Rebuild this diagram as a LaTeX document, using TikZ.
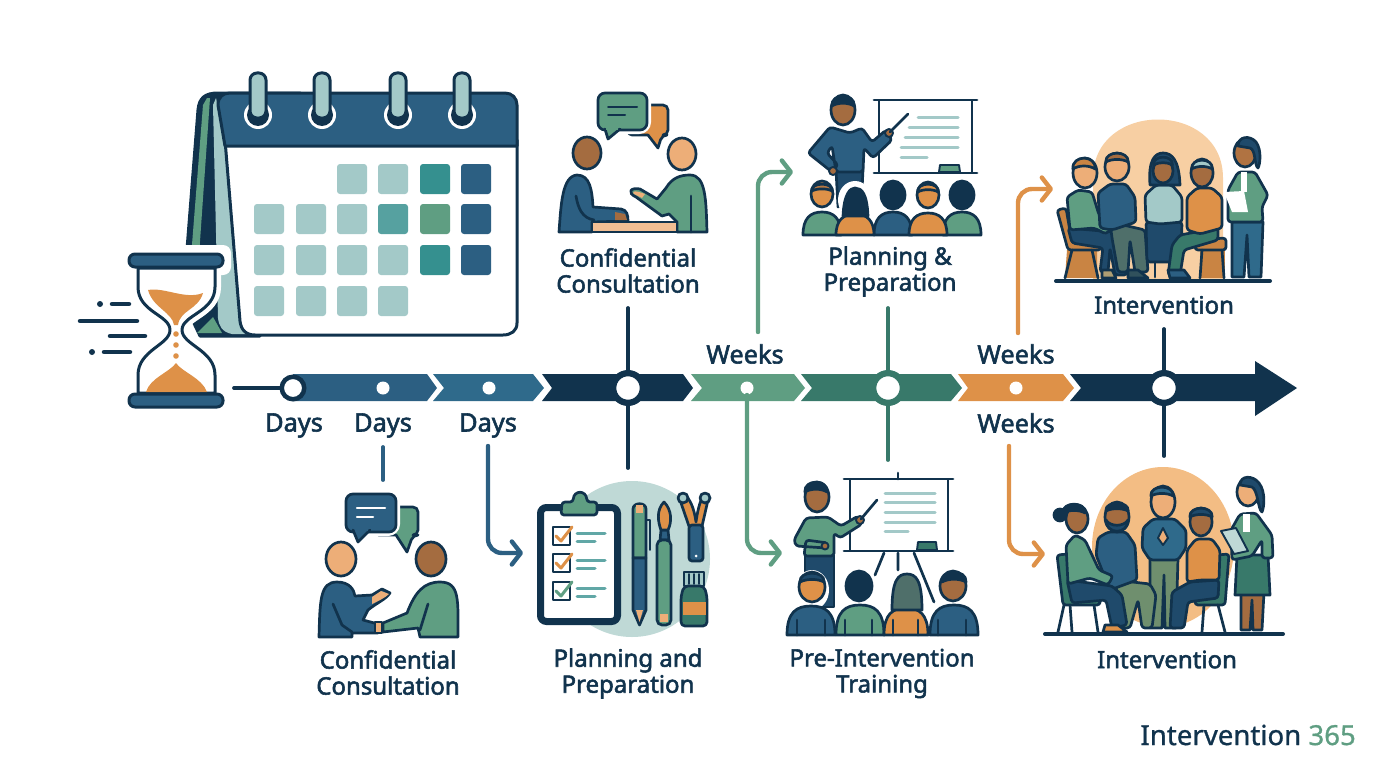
\documentclass[tikz,border=0pt]{standalone}
\usepackage{fontspec}
\setmainfont{Noto Sans}
\newfontfamily\lblfont{Noto Sans}[FakeBold=2.2]
\newfontfamily\logofont{Noto Sans}[FakeBold=1]
\usetikzlibrary{arrows.meta}
\definecolor{cNavy}{HTML}{11334D}
\definecolor{cNavyB}{HTML}{1F4A6B}
\definecolor{cBlue}{HTML}{2C5F82}
\definecolor{cBlueL}{HTML}{2F6A8B}
\definecolor{cTeal}{HTML}{35908F}
\definecolor{cGreen}{HTML}{5F9E82}
\definecolor{cDG}{HTML}{38796A}
\definecolor{cOr}{HTML}{DE9148}
\definecolor{cOrD}{HTML}{C98443}
\definecolor{cLO}{HTML}{F7CFA3}
\definecolor{cMO}{HTML}{F3BD84}
\definecolor{cPale}{HTML}{A3C9C8}
\definecolor{cPaleB}{HTML}{BFD9D6}
\definecolor{cBrown}{HTML}{A46C40}
\definecolor{cSkin}{HTML}{EDAE78}
\definecolor{cOlive}{HTML}{6F8F6E}
\definecolor{cGrey}{HTML}{4F6F6A}
\tikzset{
  ol/.style={draw=cNavy,line width=2.7pt,line join=round,line cap=round},
  olt/.style={draw=cNavy,line width=1.9pt,line join=round,line cap=round},
  rc/.style={rounded corners=3pt},
  lbl/.style={text=cNavy,font=\fontsize{24}{26}\selectfont\lblfont,align=center,inner sep=0pt},
  tick/.style={text=cNavy,font=\fontsize{25.3}{26}\selectfont\lblfont,align=center,inner sep=0pt},
  stem/.style={line width=3.8pt,line cap=round},
  flow/.style={line width=4.4pt,line cap=round,rounded corners=14pt,-{Straight Barb[round,length=9pt,width=23pt]}},
  tl/.style={draw=cPale,line width=3pt,line cap=round},
  mk/.style={circle,fill=white,inner sep=0pt},
}
\newcommand\hd[5]{\draw[ol,fill=#5] (#1,#2) ellipse (#3pt and #4pt);}
\newcommand\hr[5]{\draw[ol,fill=#5] ({#1-.86*#3},{#2+1}) .. controls ({#1-.86*#3-1},{#2-1.35*#4}) and ({#1+.86*#3+1},{#2-1.35*#4}) .. ({#1+.86*#3},{#2+1}) .. controls ({#1+#3*.4},{#2-.3*#4}) and ({#1-#3*.4},{#2-.3*#4}) .. cycle;}
\newcommand\bust[5]{\draw[ol,fill=#5] ({#1-#4},#2) .. controls ({#1-#4},{#3+6}) and ({#1-#4*.6},#3) .. (#1,#3) .. controls ({#1+#4*.6},#3) and ({#1+#4},{#3+6}) .. ({#1+#4},#2) -- cycle;}
\newcommand\seg[5]{\fill[#5] (#1,374) -- (#3,374) -- (#4,388) -- (#3,401) -- (#1,401) -- (#2,388) -- cycle;}
\newcommand\sq[3]{\fill[#3,rounded corners=3pt] (#1,#2) rectangle ({#1+30},{#2+30});}
\begin{document}
\begin{tikzpicture}[x=1pt,y=-1pt]
\useasboundingbox (0,0) rectangle (1376,768);
%% ---- calendar
\draw[ol,fill=cNavy,line width=3pt] (183,300) -- (198,110) .. controls (199,98) and (205,93) .. (218,93) -- (300,93) -- (260,336) -- (200,336) -- cycle;
\fill[cGreen] (203,105) -- (207,98) -- (210,98) -- (198,270) -- (190,270) -- cycle;
\fill[cGreen] (197,333) -- (213,317) -- (222,333) -- cycle;
\fill[cPale] (213,105) -- (216,98) -- (226,147) -- (240,325) -- (250,334) -- (232,334) .. controls (222,332) and (219,326) .. (218,318) -- cycle;
\draw[ol,line width=3pt,fill=white] (225,140) -- (517,140) -- (517,323) .. controls (517,331) and (511,335) .. (503,335) -- (255,335) .. controls (246,335) and (241,330) .. (240,321) -- cycle;
\draw[ol,line width=3pt,fill=cBlue] (225,146) -- (218,105) .. controls (218,97) and (223,93) .. (230,93) -- (505,93) .. controls (512,93) and (517,98) .. (517,105) -- (517,146) -- cycle;
\foreach \x in {258,322,398,462}{
  \fill[white] (\x,115) circle (14pt);
  \fill[cNavy] (\x,115) circle (11pt);
  \draw[cNavy,fill=cPale,line width=3pt,rounded corners=7pt] ({\x-8},73) rectangle ({\x+8},118);
}
\foreach \x in {337,378}{\sq{\x}{164}{cPale}}
\sq{420}{164}{cTeal}\sq{461}{164}{cBlue}
\foreach \x in {254,296,337}{\sq{\x}{204}{cPale}}
\sq{378}{204}{cTeal!70!cPale}\sq{420}{204}{cGreen}\sq{461}{204}{cBlue}
\foreach \x in {254,296,337,378}{\sq{\x}{245}{cPale}}
\sq{420}{245}{cTeal}\sq{461}{245}{cBlue}
\foreach \x in {254,296,337,378}{\sq{\x}{286}{cPale}}
%% ---- hourglass
\fill[white,rounded corners=8pt] (120,245) rectangle (231,275);
\draw[white,line width=12pt,fill=white] (138,268) -- (138,287) .. controls (138,312) and (170,315) .. (170,330) .. controls (170,345) and (138,350) .. (138,375) -- (138,393) -- (215,393) -- (215,375) .. controls (215,350) and (182,345) .. (182,330) .. controls (182,315) and (215,312) .. (215,287) -- (215,268) -- cycle;
\draw[ol,fill=white,line width=3pt] (138,268) -- (138,287) .. controls (138,312) and (170,315) .. (170,330) .. controls (170,345) and (138,350) .. (138,375) -- (138,393) -- (215,393) -- (215,375) .. controls (215,350) and (182,345) .. (182,330) .. controls (182,315) and (215,312) .. (215,287) -- (215,268) -- cycle;
\fill[cOr] (148,290) .. controls (165,287) and (185,300) .. (203,293) .. controls (198,310) and (180,310) .. (178,325) -- (174,325) .. controls (172,312) and (153,308) .. (148,290) -- cycle;
\fill[cOr] (146,392) .. controls (150,378) and (170,372) .. (176,363) .. controls (182,372) and (202,378) .. (207,392) -- cycle;
\foreach \y in {334,345,356}{\fill[cOr] (176,\y) circle (2.8pt);}
\draw[ol,fill=cBlue,line width=3pt,rounded corners=6pt] (129,254) rectangle (223,267);
\draw[ol,fill=cBlue,line width=3pt,rounded corners=6pt] (129,394) rectangle (223,407);
\begin{scope}[draw=cNavy,line width=4.5pt,line cap=round]
\fill[cNavy] (100,304) circle (3pt);
\draw (112,304) -- (129,304);
\draw (80,321) -- (137,321);
\draw (110,336) -- (145,336);
\fill[cNavy] (92,352) circle (3pt);
\draw (104,352) -- (130,352);
\end{scope}
%% ---- timeline
\coordinate (start) at (234,388);
\seg{293}{293}{427}{437}{cBlue}
\seg{433}{444}{533}{544}{cBlueL}
\seg{542}{552}{683}{693}{cNavy}
\seg{691}{702}{794}{805}{cGreen}
\seg{801}{812}{951}{962}{cDG}
\seg{958}{968}{1063}{1074}{cOr}
\fill[cNavy] (1070,374) -- (1255,374) -- (1255,361) -- (1297,388) -- (1255,416) -- (1255,401) -- (1070,401) -- (1081,388) -- cycle;
\node[mk,draw=cNavy,line width=4.5pt,minimum size=22.5pt] (m1) at (293,388) {};
\node[mk,minimum size=13pt] (m2) at (383,388) {};
\node[mk,minimum size=13pt] (m3) at (489,388) {};
\node[mk,draw=cNavy,line width=6.3pt,minimum size=29.7pt] (m4) at (628,388) {};
\node[mk,minimum size=13pt] (m5) at (747,388) {};
\node[mk,draw=cDG,line width=6.3pt,minimum size=29.7pt] (m6) at (888,388) {};
\node[mk,minimum size=13pt] (m7) at (1016,388) {};
\node[mk,draw=cNavy,line width=6.3pt,minimum size=29.7pt] (m8) at (1164,388) {};
\draw[cNavy,stem] (start) -- (m1);
%% ---- labels
\node[tick] (d1) at (294,425.5) {Days};
\node[tick] (d2) at (383,425.5) {Days};
\node[tick] (d3) at (488,425.5) {Days};
\node[tick] (w1) at (745,354) {Weeks};
\node[tick] (w2) at (1016,354) {Weeks};
\node[tick] (w3) at (1016,423) {Weeks};
\node[lbl] (t1) at (628,270.5) {Confidential\\Consultation};
\node[lbl] (t2) at (890,271.5) {Planning \&\\Preparation};
\node[lbl] (t3) at (1164,305) {Intervention};
\node[lbl] (b1) at (388,672.5) {Confidential\\Consultation};
\node[lbl] (b2) at (628,673.5) {Planning and\\Preparation};
\node[lbl] (b3) at (882,673.5) {Pre-Intervention\\Training};
\node[lbl] (b4) at (1167,659.5) {Intervention};
\node[anchor=east,inner sep=0pt,font=\fontsize{27.6}{30}\selectfont\logofont] (logo) at (1356,735) {\textcolor{cNavy}{Intervention} \textcolor{cGreen}{365}};
%% ---- stems
\coordinate (s1) at (628,308); \coordinate (s2) at (628,468);
\coordinate (s3) at (888,308); \coordinate (s4) at (888,460);
\coordinate (s5) at (1164,329); \coordinate (s6) at (1164,456);
\coordinate (s7) at (383,447); \coordinate (s8) at (383,480);
\draw[cNavy,stem] (s1) -- (m4); \draw[cNavy,stem] (m4) -- (s2);
\draw[cDG,stem] (s3) -- (m6); \draw[cDG,stem] (m6) -- (s4);
\draw[cNavy,stem] (s5) -- (m8); \draw[cNavy,stem] (m8) -- (s6);
\draw[cBlue,stem] (s7) -- (s8);
%% ---- flows
\coordinate (f1a) at (488,446); \coordinate (f1b) at (523,553);
\coordinate (f2a) at (758,332); \coordinate (f2b) at (793,172);
\coordinate (f3a) at (747,395); \coordinate (f3b) at (782,553);
\coordinate (f4a) at (1018,333); \coordinate (f4b) at (1053,189);
\coordinate (f5a) at (1009,446); \coordinate (f5b) at (1045,554);
\draw[flow,cBlue] (f1a) |- (f1b);
\draw[flow,cGreen] (f2a) |- (f2b);
\draw[flow,cGreen] (f3a) |- (f3b);
\draw[flow,cOr] (f4a) |- (f4b);
\draw[flow,cOr] (f5a) |- (f5b);
%% ---- icon: top consultation
\draw[ol,fill=cOr,rounded corners=5pt] (640,105) -- (668,105) -- (668,135) -- (662,135) [sharp corners] -- (658,148) -- (648,135) [rounded corners=4pt] -- (628,135) -- (628,118) -- cycle;
\draw[white,line width=8pt,rounded corners=8pt] (598,93) rectangle (647,130);
\draw[ol,fill=cGreen,rounded corners=7pt] (598,93) rectangle (647,130);
\draw[ol,fill=cGreen] (605,129) -- (608,139) -- (620,129);
\fill[cGreen] (606,126.5) rectangle (618,129.6);
\draw[cNavy,line width=2pt,line cap=round] (608,107) -- (637,107) (608,115) -- (625,115);
\hd{587}{153}{14}{16}{cBrown}
\hd{682}{154}{14}{16}{cSkin}
\draw[ol,fill=cBlue] (559,232) .. controls (561,205) and (562,176) .. (577,175) .. controls (590,175) and (592,190) .. (593,207) -- (621,209) .. controls (627,210) and (628,215) .. (628,221) -- (592,222) -- (592,232) -- cycle;
\draw[ol] (576,196) .. controls (578,208) and (582,218) .. (594,220);
\fill[cBrown] (615,212) -- (625,214) -- (627,220) -- (615,220) -- cycle;
\draw[ol,fill=cGreen] (707,232) .. controls (706,200) and (706,175) .. (690,175) .. controls (680,175) and (672,178) .. (666,188) -- (657,199) -- (640,189) .. controls (630,187) and (627,193) .. (636,197) -- (662,216) -- (669,214) -- (677,222) -- (677,232) -- cycle;
\fill[cSkin] (639,192) .. controls (633,190) and (631,193) .. (636,195) -- (642,198) -- (645,194) -- cycle;
\draw[ol] (691,196) -- (691,232);
\draw[ol,fill=cSkin!80!white] (592,222) rectangle (677,232);
%% ---- icon: top presenter
\draw[ol,fill=white] (879,100) rectangle (972,173);
\draw[ol] (874,100) -- (977,100) (874,173) -- (977,173);
\draw[tl] (918,117) -- (958,117) (909,127) -- (958,127) (905,137) -- (958,137) (901,147) -- (958,147) (901,157) -- (927,157);
\draw[olt,fill=cGreen] (939,172) -- (940,165) -- (959,165) -- (960,172) -- cycle;
\draw[ol,fill=cNavyB] (836,170) -- (838,207) -- (862,190) -- (863,170) -- cycle;
\draw[ol,fill=cBlue,rc] (830,127) -- (808,153) -- (832,172) -- (838,165) -- (827,153) -- (832,146) -- (836,172) -- (863,172) -- (864,148) -- (873,158) -- (892,140) -- (886,130) -- (872,142) -- (862,128) -- (850,133) -- cycle;
\draw[olt,fill=cBrown] (833,171) circle (4pt);
\draw[olt,fill=cBrown] (889,133) circle (4pt);
\draw[ol] (890,132) -- (908,114);
\hd{843}{110}{12}{15}{cBrown}
\hr{843}{105}{13}{9}{cNavy}
\bust{822}{235}{212}{19}{cGreen}
\hd{822}{194}{11}{13}{cOr}
\hr{822}{190}{12}{6}{cBrown!70!cOr}
\bust{962}{235}{212}{19}{cGreen}
\bust{893}{235}{212}{19}{cBlue}
\hd{893}{195}{12}{14}{cNavy}
\fill[white] (855,200) ellipse (17pt and 19pt);
\bust{855}{235}{214}{19}{cOr}
\draw[ol,fill=cNavy] (843,216) .. controls (844,194) and (850,188) .. (855,188) .. controls (862,188) and (867,194) .. (868,216) -- cycle;
\bust{928}{235}{213}{19}{cOr}
\hd{928}{195}{11}{13}{cOr}
\hr{928}{191}{12}{7}{cOr}
\hd{962}{195}{12}{14}{cNavy}
%% ---- icon: top intervention
\fill[cLO] (1093,280) -- (1093,178) .. controls (1093,100) and (1223,100) .. (1223,178) -- (1223,280) -- cycle;
\fill[cOrD] (1067,250) -- (1097,250) -- (1097,278) -- (1065,278) -- cycle;
\draw[ol,fill=cOrD,rc] (1057,210) -- (1066,208) -- (1072,243) -- (1100,243) -- (1101,250) -- (1068,250) -- cycle;
\draw[ol] (1072,250) -- (1065,278) (1092,250) -- (1098,278);
\fill[cOrD] (1200,250) -- (1225,250) -- (1225,278) -- (1200,278) -- cycle;
\draw[ol,fill=cOrD,rc] (1195,240) -- (1226,238) -- (1226,250) -- (1195,250) -- cycle;
\draw[ol] (1202,250) -- (1200,278) (1222,250) -- (1224,278);
% p1
\draw[ol,fill=cNavyB,rc] (1068,228) -- (1113,232) -- (1124,244) -- (1127,275) -- (1115,275) -- (1110,248) -- (1108,272) -- (1100,272) -- (1103,248) -- (1072,243) -- cycle;
\draw[ol,fill=cOlive!50!cSkin] (1102,270) -- (1112,270) -- (1116,278) -- (1102,278) -- cycle;
\draw[ol,fill=cGreen,rc] (1070,230) -- (1067,197) -- (1078,190) -- (1092,192) -- (1099,215) -- (1112,228) -- (1106,234) -- (1094,228) -- cycle;
\hd{1085}{173}{12}{15}{cSkin}
\hr{1084}{168}{13}{10}{cOrD}
% p2
\draw[ol,fill=cGrey,rc] (1110,222) -- (1145,230) -- (1148,272) -- (1135,272) -- (1130,240) -- (1128,272) -- (1118,272) -- (1112,238) -- cycle;
\draw[ol,fill=cNavy!50!cGrey] (1128,270) -- (1138,270) -- (1148,278) -- (1128,278) -- cycle;
\draw[ol,fill=cBlue,rc] (1100,228) -- (1098,193) -- (1110,184) -- (1126,184) -- (1135,197) -- (1136,222) -- (1112,230) -- cycle;
\hd{1117}{167}{12}{14}{cSkin}
\hr{1117}{161}{13}{8}{cBrown}
% p3
\draw[ol,fill=cNavyB,rc] (1146,222) -- (1182,222) -- (1181,262) -- (1147,262) -- cycle;
\draw[ol] (1155,262) -- (1155,277) (1172,262) -- (1172,277);
\draw[ol,fill=cPale,rc] (1146,222) -- (1145,195) -- (1156,185) -- (1172,185) -- (1182,197) -- (1182,222) -- (1160,224) -- cycle;
\draw[ol,fill=cNavyB] (1150,185) .. controls (1148,160) and (1155,153) .. (1163,153) .. controls (1172,153) and (1179,160) .. (1180,185) -- cycle;
\hd{1163}{171}{10}{12}{cBrown}
\hr{1163}{164}{11}{7}{cNavyB}
% p4
\draw[ol,fill=cDG,rc] (1218,228) -- (1180,235) -- (1172,245) -- (1168,275) -- (1180,275) -- (1184,250) -- (1218,240) -- cycle;
\draw[ol,fill=cBlue] (1168,270) -- (1184,270) -- (1190,278) -- (1170,278) -- cycle;
\draw[ol,fill=cOr,rc] (1187,230) -- (1187,197) -- (1197,188) -- (1212,188) -- (1222,197) -- (1222,228) -- (1200,234) -- cycle;
\hd{1202}{173}{11}{14}{cBrown}
\hr{1202}{168}{12}{8}{cPale}
% p5
\draw[ol,fill=cBlueL] (1232,222) -- (1263,222) -- (1261,277) -- (1249,277) -- (1247,235) -- (1244,277) -- (1232,277) -- cycle;
\draw[ol,fill=cGreen,rc] (1228,222) -- (1228,190) -- (1238,172) -- (1255,172) -- (1268,195) -- (1262,207) -- (1263,222) -- cycle;
\fill[white] (1241,172) rectangle (1247,192);
\draw[ol,fill=cBrown!80!cOr] (1245,153) ellipse (11pt and 14pt);
\draw[ol,fill=cNavyB] (1238,146) .. controls (1238,136) and (1250,135) .. (1256,142) .. controls (1262,150) and (1260,165) .. (1258,168) .. controls (1254,165) and (1256,150) .. (1250,148) -- cycle;
\fill[white] (1224,192) -- (1244,191) -- (1248,212) -- (1232,212) -- cycle;
\draw[ol,line width=4pt] (1056,281) -- (1270,281);
%% ---- icon: lower consultation
\draw[ol,fill=cGreen,rounded corners=5pt] (390,507) -- (418,507) -- (418,535) -- (413,535) [sharp corners] -- (407,552) -- (396,535) [rounded corners=4pt] -- (375,535) -- (375,520) -- cycle;
\draw[white,line width=8pt,rounded corners=8pt] (346,494) rectangle (396,532);
\draw[ol,fill=cBlue,rounded corners=7pt] (346,494) rectangle (396,532);
\draw[ol,fill=cBlue] (353,530) -- (358,542) -- (370,530);
\fill[cBlue] (355,527) rectangle (368,531);
\draw[white,line width=2.5pt,line cap=round] (357,508) -- (385,508) (357,517) -- (373,517);
\hd{341}{559}{15}{17}{cSkin}
\hd{431}{559}{15}{17}{cBrown}
\draw[ol,fill=cGreen] (458,637) .. controls (458,600) and (460,582) .. (440,582) .. controls (424,582) and (415,592) .. (407,613) -- (383,623) -- (383,632) -- (418,628) -- (420,637) -- cycle;
\draw[ol] (428,604) -- (420,630);
\draw[ol,fill=cBlue] (319,637) .. controls (320,600) and (320,582) .. (337,582) .. controls (350,582) and (354,590) .. (355,596) -- (372,595) -- (382,589) -- (390,593) .. controls (385,600) and (378,602) .. (368,610) -- (363,620) -- (378,624) -- (378,633) -- (352,633) -- (352,637) -- cycle;
\fill[cSkin] (372,597) -- (381,591) -- (389,594) .. controls (385,598) and (378,601) .. (372,604) -- cycle;
\draw[olt,fill=cSkin] (375,622) rectangle (382,633);
\draw[ol] (333,604) -- (342,625) -- (352,632);
%% ---- icon: planning tools
\fill[cPaleB] (632,559) circle (78pt);
\draw[cNavy,line width=7pt,rounded corners=6pt,fill=white] (540.5,507.5) rectangle (617.5,621.5);
\draw[ol,fill=cGreen,rc] (561,515) -- (562,502) -- (573,502) .. controls (574,490) and (586,490) .. (587,502) -- (597,502) -- (597,515) -- cycle;
\foreach \y/\c in {527/cOr,554/cOr,582/cGreen}{
  \draw[olt,fill=white] (553,\y) rectangle (570,{\y+18});
  \draw[\c,line width=3pt,line cap=round,line join=round] (556,{\y+9}) -- (561,{\y+14}) -- (572,{\y});
  \draw[cTeal!60!cPale,line width=3pt,line cap=round] (577,{\y+6}) -- (605,{\y+6}) (577,{\y+14}) -- (595,{\y+14});
}
\draw[ol,fill=cGreen] (633,558) -- (633,509) .. controls (633,502) and (646,502) .. (646,509) -- (646,558) -- cycle;
\fill[cSkin] (636,505) rectangle (643,513);
\draw[ol,fill=cBlue] (633,558) -- (646,558) -- (646,610) -- (639.5,625) -- (633,610) -- cycle;
\fill[cSkin] (636,610) -- (643,610) -- (639.5,622) -- cycle;
\draw[olt] (646,520) -- (650,520) -- (650,550);
\draw[ol,fill=cBlue] (660,540) -- (661,530) -- (668,530) -- (669,540) -- cycle;
\draw[ol,fill=cOr] (664,502) .. controls (656,510) and (658,522) .. (661,530) -- (668,530) .. controls (672,522) and (672,510) .. (664,502) -- cycle;
\draw[ol,fill=cGreen,rounded corners=5pt] (657,540) rectangle (671,625);
\fill[cSkin] (660,614) rectangle (668,622);
\draw[ol,fill=cOr] (680,500) -- (692,535) -- (700,535) -- (708,500) .. controls (708,490) and (700,492) .. (696,522) .. controls (692,492) and (678,490) .. (680,500) -- cycle;
\draw[ol,fill=cPale] (683,498) circle (5pt);
\draw[ol,fill=cPale] (705,498) circle (5pt);
\draw[ol,fill=cBlue,rounded corners=3pt] (689,525) rectangle (703,561);
\fill[white] (696,556) circle (1.5pt);
\draw[ol,fill=cPale] (684,572) rectangle (704,586);
\draw[olt] (689,574) -- (689,584) (694,574) -- (694,584) (699,574) -- (699,584);
\draw[ol,fill=cDG,rounded corners=4pt] (681,596) -- (684,586) -- (704,586) -- (707,596) -- (707,626) -- (681,626) -- cycle;
\fill[cOr] (682.5,602) rectangle (705.5,615);
%% ---- icon: pre-intervention training
\draw[ol,fill=white] (850,479) rectangle (948,551);
\draw[ol] (844,479) -- (953,479) (844,551) -- (953,551) (898,473) -- (898,479);
\draw[ol] (884,553) -- (875,575) (898,553) -- (898,570) (914,553) -- (934,602);
\draw[tl] (885,493) -- (935,493) (885,502) -- (935,502) (885,512) -- (935,512) (885,522) -- (935,522) (885,531) -- (908,531);
\draw[olt,fill=cDG] (917,550) -- (918,542) -- (936,542) -- (937,550) -- cycle;
\draw[ol,fill=cNavyB] (805,555) rectangle (834,607);
\draw[ol,fill=cGreen,rc] (806,518) -- (794,540) -- (796,546) -- (826,548) -- (828,543) -- (806,540) -- (804,556) -- (834,556) -- (834,533) -- (840,538) -- (862,524) -- (858,516) -- (841,526) -- (828,517) -- cycle;
\draw[olt,fill=cBrown] (860,520) circle (4pt);
\draw[olt,fill=cBrown] (825,546) circle (3.5pt);
\draw[ol] (861,519) -- (877,500);
\hd{817}{497}{12}{15}{cBrown}
\hr{816}{491}{13}{9}{cNavy}
\fill[white] (812,590) ellipse (17pt and 20pt);
\bust{811}{635}{606}{24}{cBlue}
\hd{812}{587}{13}{15}{cOr}
\hr{812}{581}{14}{8}{cNavyB}
\bust{860}{635}{605}{24}{cGreen}
\hd{859}{586}{13}{15}{cNavy}
\bust{906}{635}{608}{22}{cOr}
\draw[ol,fill=cGrey] (892,610) .. controls (892,580) and (898,574) .. (907,574) .. controls (916,574) and (922,580) .. (922,610) -- cycle;
\bust{954}{635}{605}{24}{cBlue}
\hd{953}{586}{13}{15}{cBrown}
\hr{954}{581}{14}{9}{cNavy}
\draw[ol] (797,620) -- (797,635) (825,620) -- (825,635) (845,620) -- (845,635) (872,620) -- (872,635) (893,620) -- (893,635) (918,620) -- (918,635) (938,620) -- (938,635) (966,620) -- (966,635);
%% ---- icon: lower intervention
\fill[cMO] (1163,547) ellipse (71pt and 80pt);
\draw[ol,fill=cDG,rc] (1057,555) -- (1068,554) -- (1072,598) -- (1100,600) -- (1100,605) -- (1063,605) -- cycle;
\draw[ol] (1064,605) -- (1058,632) (1070,605) -- (1072,632) (1094,605) -- (1098,632);
\draw[ol,fill=cDG,rc] (1217,555) -- (1229,554) -- (1225,605) -- (1195,605) -- (1195,598) -- (1218,598) -- cycle;
\draw[ol] (1204,605) -- (1202,632) (1218,605) -- (1225,632);
% p3
\draw[ol,fill=cOlive] (1150,558) -- (1178,558) -- (1176,628) -- (1165,628) -- (1164,575) -- (1162,628) -- (1150,628) -- cycle;
\draw[ol,fill=cBlueL,rc] (1150,560) -- (1142,548) -- (1143,528) -- (1153,519) -- (1175,519) -- (1186,530) -- (1186,548) -- (1178,560) -- cycle;
\draw[olt,fill=cSkin] (1158,538) -- (1163,528) -- (1168,538) -- (1163,545) -- cycle;
\hd{1163}{502}{12}{16}{cSkin}
\hr{1162}{495}{13}{8}{cBlueL}
% p2
\draw[ol,fill=cOlive,rc] (1115,580) -- (1150,584) -- (1156,595) -- (1152,628) -- (1142,628) -- (1138,600) -- (1130,628) -- (1122,628) -- cycle;
\draw[ol,fill=cBlue,rc] (1110,590) -- (1096,555) -- (1098,538) -- (1108,532) -- (1126,532) -- (1135,545) -- (1137,580) -- cycle;
\hd{1117}{517}{12}{15}{cBrown}
\hr{1117}{510}{13}{7}{cNavy}
\draw[ol,fill=cNavyB] (1106,520) .. controls (1110,527) and (1124,527) .. (1128,520) .. controls (1128,535) and (1106,535) .. (1106,520) -- cycle;
% p1
\draw[ol,fill=cNavyB,rc] (1067,580) -- (1112,586) -- (1122,595) -- (1127,625) -- (1112,628) -- (1106,600) -- (1072,603) -- cycle;
\draw[ol,fill=cOr] (1105,625) -- (1118,625) -- (1127,632) -- (1103,632) -- cycle;
\draw[ol,fill=cGreen,rc] (1068,584) -- (1066,545) -- (1075,535) -- (1085,540) -- (1099,570) -- (1113,576) -- (1108,585) -- (1090,578) -- cycle;
\hd{1077}{519}{11}{14}{cBrown}
\draw[ol,fill=cNavy] (1060,515) circle (6pt);
\hr{1074}{512}{13}{8}{cNavy}
% p4
\draw[ol,fill=cNavyB,rc] (1219,580) -- (1190,582) -- (1172,592) -- (1170,628) -- (1184,628) -- (1188,602) -- (1218,598) -- cycle;
\draw[ol,fill=cOr,rc] (1187,582) -- (1187,550) -- (1196,539) -- (1212,539) -- (1220,550) -- (1219,580) -- (1200,580) -- cycle;
\hd{1201}{522}{11}{14}{cBrown}
\hr{1201}{516}{13}{8}{cNavyB}
% p5
\draw[ol,fill=cBrown] (1241,592) -- (1264,592) -- (1262,630) -- (1253,630) -- (1252,600) -- (1250,630) -- (1241,630) -- cycle;
\draw[ol,fill=cDG] (1237,555) -- (1268,555) -- (1270,595) -- (1235,595) -- cycle;
\draw[ol,fill=cGreen,rc] (1240,514) -- (1256,513) -- (1272,535) -- (1273,558) -- (1262,558) -- (1262,540) -- (1252,556) -- (1232,560) -- (1231,530) -- cycle;
\fill[white] (1243,514) rectangle (1250,532);
\draw[olt,fill=cPaleB] (1221,531) -- (1236,528) -- (1248,551) -- (1234,554) -- cycle;
\draw[ol,fill=cSkin] (1248,492) ellipse (11pt and 14pt);
\draw[ol,fill=cNavyB] (1240,485) .. controls (1240,475) and (1253,475) .. (1259,483) .. controls (1266,492) and (1264,508) .. (1262,512) .. controls (1258,510) and (1258,490) .. (1252,487) -- cycle;
\draw[ol,line width=4pt] (1045,634) -- (1283,634);
\end{tikzpicture}
\end{document}
